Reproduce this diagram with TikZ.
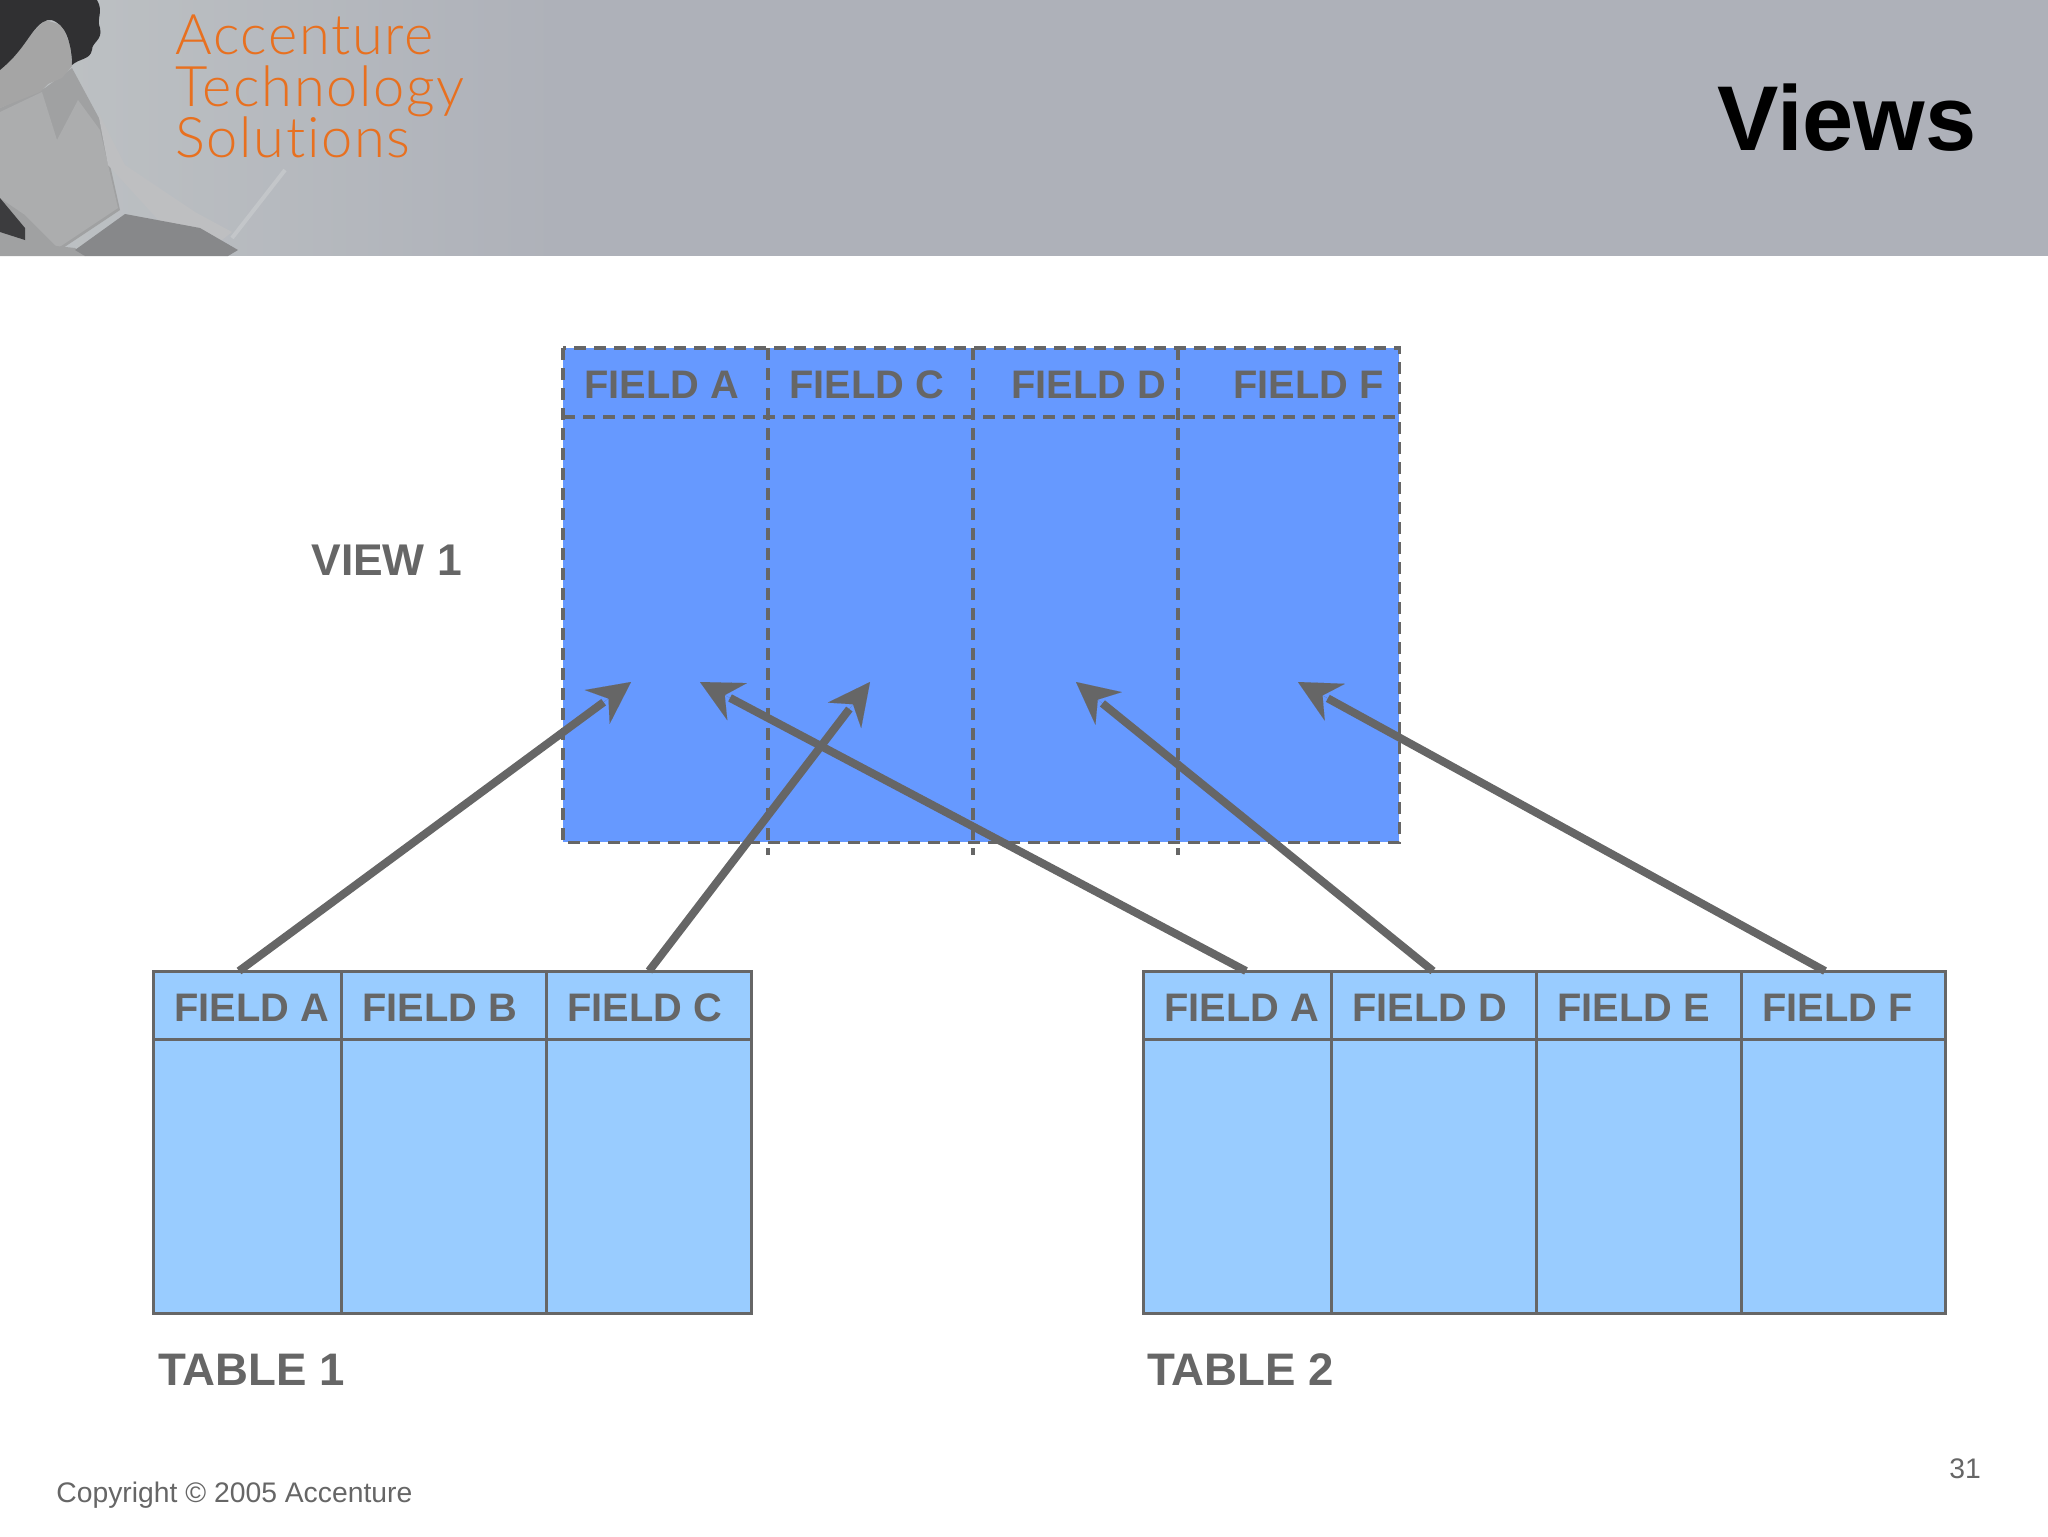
\documentclass[tikz,border=0pt]{standalone}
\usepackage{fontspec}
\setmainfont{Liberation Sans}
\newfontfamily\logofont[LetterSpace=3,Ligatures=NoCommon]{Lato Light}
\usetikzlibrary{arrows.meta,shapes.geometric}
\definecolor{lnc}{HTML}{666666}
\definecolor{viewc}{HTML}{6699FF}
\definecolor{tabc}{HTML}{99CCFF}
\definecolor{logoc}{HTML}{E8701F}
\definecolor{bandl}{RGB}{190,194,196}
\definecolor{bandr}{RGB}{174,177,185}
\definecolor{phbase}{RGB}{160,161,162}
\definecolor{phshirt}{RGB}{172,173,174}
\definecolor{pharm}{RGB}{190,191,193}
\definecolor{phdark}{RGB}{60,60,62}
\definecolor{phlap}{RGB}{135,136,138}
\definecolor{phscr}{RGB}{195,198,201}
\definecolor{phface}{RGB}{165,165,165}
\definecolor{phhair}{RGB}{48,48,50}
\tikzset{
  cellbox/.style 2 args={draw=lnc,line width=1.5pt,fill=tabc,anchor=north west,inner sep=0pt,minimum width=#1,minimum height=#2},
  viewbox/.style 2 args={fill=viewc,anchor=north west,inner sep=0pt,minimum width=#1,minimum height=#2},
  dashln/.style={draw=lnc,line width=1.6pt,dash pattern=on 6pt off 4pt},
  fieldtxt/.style={anchor=base west,inner sep=0pt,text=lnc,font=\bfseries\fontsize{19.9}{24}\selectfont},
  labeltxt/.style={anchor=base west,inner sep=0pt,text=lnc,font=\bfseries\fontsize{22.8}{26}\selectfont},
  smalltxt/.style={anchor=base west,inner sep=0pt,text=lnc,font=\fontsize{14.15}{17}\selectfont},
  logotxt/.style={anchor=base west,inner sep=0pt,text=logoc,font=\logofont\fontsize{28}{32}\selectfont},
  shaft/.style={draw=lnc,line width=4pt,shorten >=17pt},
  headtip/.style={draw=lnc,line width=0.01pt,-{Stealth[length=21pt,width=21pt,inset=7pt]}},
}
\begin{document}
\begin{tikzpicture}[x=0.5pt,y=-0.5pt]
\useasboundingbox (0,0) rectangle (2048,1536);
\fill[white] (0,0) rectangle (2048,1536);
% header band
\fill[bandr] (0,0) rectangle (2048,256);
\fill[left color=bandl,right color=bandr] (0,0) rectangle (560,255);
% photo, sketched
\fill[phbase] (0,108) -- (45,88) -- (72,68) -- (100,120) -- (120,210) -- (60,250) -- (0,250) -- cycle;
\fill[phshirt] (0,112) -- (42,92) -- (57,140) -- (78,100) -- (100,130) -- (118,208) -- (58,248) -- (25,215) -- (0,198) -- cycle;
\fill[pharm] (98,112) -- (125,165) -- (195,212) -- (232,232) -- (222,240) -- (160,222) -- (108,165) -- cycle;
\fill[phdark] (0,198) -- (25,228) -- (25,240) -- (0,232) -- cycle;
\fill[phbase] (0,240) -- (75,248) -- (85,256) -- (0,256) -- cycle;
\fill[phlap] (125,214) -- (200,228) -- (238,250) -- (228,256) -- (85,256) -- (75,250) -- cycle;
\draw[phscr,line width=2pt] (285,170) -- (232,238);
\fill[phface] (0,70) -- (15,55) -- (30,35) -- (45,20) -- (62,25) -- (70,45) -- (72,66) -- (62,78) -- (48,84) -- (40,92) -- (0,108) -- cycle;
\fill[phhair] (0,0) -- (97,0) .. controls (104,12) and (96,18) .. (100,28) .. controls (103,40) and (92,42) .. (92,50) .. controls (90,60) and (80,58) .. (72,65) .. controls (72,50) and (68,28) .. (56,22) .. controls (50,18) and (44,20) .. (38,26) .. controls (28,36) and (22,52) .. (0,70) -- cycle;
\node[logotxt] (logo1) at (175,55) {Accenture};
\node[logotxt] (logo2) at (175,106) {Technology};
\node[logotxt] (logo3) at (175,157) {Solutions};
\node[anchor=base west,inner sep=0pt,font=\bfseries\fontsize{46}{50}\selectfont] (title) at (1717,150) {Views};
% view
\node[viewbox={418pt}{247pt}] (view) at (563,348) {};
\coordinate (v1t) at (768,348); \coordinate (v1b) at (768,855);
\coordinate (v2t) at (973,348); \coordinate (v2b) at (973,855);
\coordinate (v3t) at (1178,348); \coordinate (v3b) at (1178,855);
\coordinate (vhl) at (563,417); \coordinate (vhr) at (1399,417);
\draw[dashln] (view.north west) rectangle (view.south east);
\draw[dashln] (vhl) -- (vhr);
\draw[dashln] (v1t) -- (v1b);
\draw[dashln] (v2t) -- (v2b);
\draw[dashln] (v3t) -- (v3b);
\node[fieldtxt] (vfa) at (584,398) {FIELD A};
\node[fieldtxt] (vfc) at (789,398) {FIELD C};
\node[fieldtxt] (vfd) at (1011,398) {FIELD D};
\node[fieldtxt] (vff) at (1233,398) {FIELD F};
\node[labeltxt,font=\bfseries\fontsize{22.2}{26}\selectfont] (view1) at (311,575) {VIEW 1};
% table 1
\node[cellbox={94pt}{34pt}] (t1h1) at (152,970) {};
\node[cellbox={102.5pt}{34pt}] (t1h2) at (340,970) {};
\node[cellbox={102.5pt}{34pt}] (t1h3) at (545,970) {};
\node[cellbox={94pt}{137pt}] (t1b1) at (152,1038) {};
\node[cellbox={102.5pt}{137pt}] (t1b2) at (340,1038) {};
\node[cellbox={102.5pt}{137pt}] (t1b3) at (545,1038) {};
\node[fieldtxt] (t1fa) at (174,1021) {FIELD A};
\node[fieldtxt] (t1fb) at (362,1021) {FIELD B};
\node[fieldtxt] (t1fc) at (567,1021) {FIELD C};
\node[labeltxt] (tab1) at (158,1385) {TABLE 1};
% table 2
\node[cellbox={94pt}{34pt}] (t2h1) at (1142,970) {};
\node[cellbox={102.5pt}{34pt}] (t2h2) at (1330,970) {};
\node[cellbox={102.5pt}{34pt}] (t2h3) at (1535,970) {};
\node[cellbox={102pt}{34pt}] (t2h4) at (1740,970) {};
\node[cellbox={94pt}{137pt}] (t2b1) at (1142,1038) {};
\node[cellbox={102.5pt}{137pt}] (t2b2) at (1330,1038) {};
\node[cellbox={102.5pt}{137pt}] (t2b3) at (1535,1038) {};
\node[cellbox={102pt}{137pt}] (t2b4) at (1740,1038) {};
\node[fieldtxt] (t2fa) at (1164,1021) {FIELD A};
\node[fieldtxt] (t2fd) at (1352,1021) {FIELD D};
\node[fieldtxt] (t2fe) at (1557,1021) {FIELD E};
\node[fieldtxt] (t2ff) at (1762,1021) {FIELD F};
\node[labeltxt] (tab2) at (1147,1385) {TABLE 2};
% connectors
\coordinate (s1) at (239,971); \coordinate (e1) at (631,682);
\coordinate (s2) at (1246,971); \coordinate (e2) at (700,682);
\coordinate (s3) at (649,971); \coordinate (e3) at (870,682);
\coordinate (s4) at (1433,971); \coordinate (e4) at (1076,682);
\coordinate (s5) at (1825,971); \coordinate (e5) at (1298,682);
\draw[shaft] (s1) -- (e1); \draw[headtip] (s1) -- (e1);
\draw[shaft] (s2) -- (e2); \draw[headtip] (s2) -- (e2);
\draw[shaft] (s3) -- (e3); \draw[headtip] (s3) -- (e3);
\draw[shaft] (s4) -- (e4); \draw[headtip] (s4) -- (e4);
\draw[shaft] (s5) -- (e5); \draw[headtip] (s5) -- (e5);
% footer
\node[smalltxt] (copy) at (56,1502) {Copyright © 2005 Accenture};
\node[smalltxt] (pageno) at (1949,1478) {31};
\end{tikzpicture}
\end{document}
